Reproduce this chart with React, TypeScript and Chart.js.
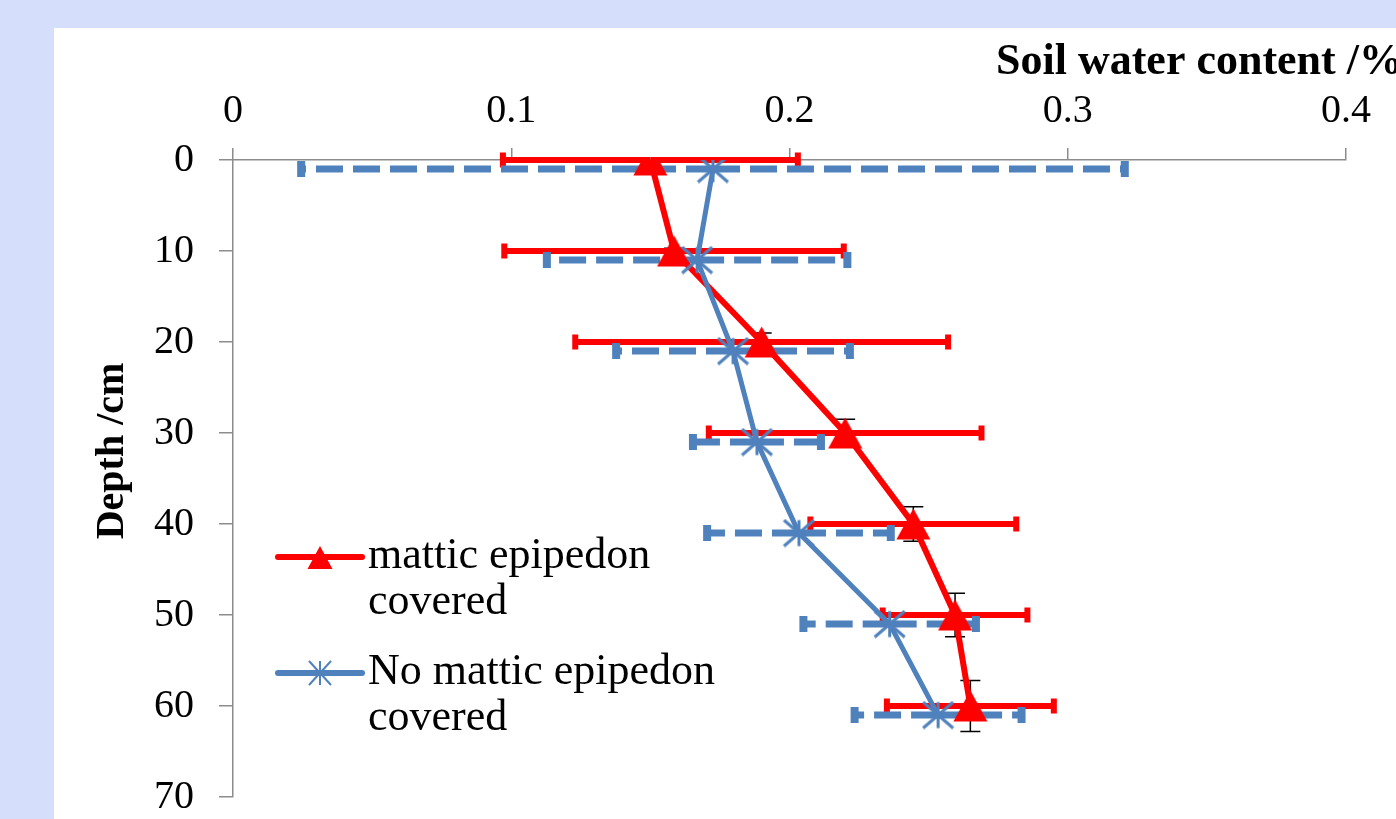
import React, { useEffect, useRef } from 'react';
import { Chart, registerables } from 'chart.js';

Chart.register(...registerables);

// ---- data ----
const redDepth = [0, 10, 20, 30, 40, 50, 60];
const redWater = [0.15, 0.1585, 0.19, 0.22, 0.2445, 0.2595, 0.265];
const redXErr = [0.053, 0.061, 0.067, 0.049, 0.037, 0.026, 0.03];
const redYErr = [0, 0.3, 1.0, 1.5, 1.9, 2.4, 2.8];

const blueDepth = [1, 11, 21, 31, 41, 51, 61];
const blueWater = [0.1725, 0.1668, 0.1797, 0.1883, 0.2034, 0.236, 0.2534];
const blueXErr = [0.148, 0.054, 0.042, 0.023, 0.033, 0.031, 0.03];

const xTicks = [0, 0.1, 0.2, 0.3, 0.4];
const xTickLabels = ['0', '0.1', '0.2', '0.3', '0.4'];
const yTicks = [0, 10, 20, 30, 40, 50, 60, 70];
const yTickLabels = ['0', '10', '20', '30', '40', '50', '60', '70'];

const seriesNames = [
  ['mattic epipedon', 'covered'],
  ['No mattic epipedon', 'covered'],
];
const xTitle = 'Soil water content /%';
const yTitle = 'Depth /cm';

// ---- styles ----
const RED = '#ff0000';
const BLUE = '#4f81bd';
const AXIS = '#8c8c8c';
const SERIF = '"Liberation Serif", "Times New Roman", serif';

function makeTriangle(w: number, h: number, color: string) {
  const c = document.createElement('canvas');
  c.width = w;
  c.height = h;
  const g = c.getContext('2d')!;
  g.fillStyle = color;
  g.beginPath();
  g.moveTo(w / 2, 0.5);
  g.lineTo(w - 0.5, h - 0.5);
  g.lineTo(0.5, h - 0.5);
  g.closePath();
  g.fill();
  return c;
}

function makeStar(w: number, h: number, color: string, lw: number) {
  const c = document.createElement('canvas');
  c.width = w;
  c.height = h;
  const g = c.getContext('2d')!;
  g.strokeStyle = color;
  g.lineWidth = lw;
  g.lineCap = 'butt';
  const m = lw / 2;
  g.beginPath();
  g.moveTo(w / 2, m);
  g.lineTo(w / 2, h - m);
  g.moveTo(m, m);
  g.lineTo(w - m, h - m);
  g.moveTo(w - m, m);
  g.lineTo(m, h - m);
  g.stroke();
  return c;
}

const errorBarPlugin = {
  id: 'errorBars',
  beforeDatasetsDraw(chart: any) {
    const ctx = chart.ctx;
    const xs = chart.scales.x;
    const ys = chart.scales.y;
    ctx.save();
    chart.data.datasets.forEach((ds: any) => {
      const eb = ds.errorBar;
      if (!eb) return;
      ds.data.forEach((p: any, i: number) => {
        const px = xs.getPixelForValue(p.x);
        const ye = eb.yErr ? eb.yErr[i] : 0;
        if (ye > 0) {
          const y1 = ys.getPixelForValue(p.y - ye);
          const y2 = ys.getPixelForValue(p.y + ye);
          ctx.strokeStyle = '#000';
          ctx.lineWidth = 1.5;
          ctx.setLineDash([]);
          ctx.beginPath();
          ctx.moveTo(px, y1);
          ctx.lineTo(px, y2);
          ctx.moveTo(px - 10, y1);
          ctx.lineTo(px + 10, y1);
          ctx.moveTo(px - 10, y2);
          ctx.lineTo(px + 10, y2);
          ctx.stroke();
        }
      });
    });
    chart.data.datasets.forEach((ds: any) => {
      const eb = ds.errorBar;
      if (!eb) return;
      ds.data.forEach((p: any, i: number) => {
        const px = xs.getPixelForValue(p.x);
        const py = ys.getPixelForValue(p.y);
        const xl = xs.getPixelForValue(p.x - eb.xErr[i]);
        const xr = xs.getPixelForValue(p.x + eb.xErr[i]);
        ctx.strokeStyle = eb.color;
        ctx.lineWidth = eb.width;
        ctx.lineCap = 'butt';
        ctx.setLineDash(eb.dash);
        ctx.beginPath();
        ctx.moveTo(px, py);
        ctx.lineTo(xl, py);
        ctx.stroke();
        ctx.beginPath();
        ctx.moveTo(px, py);
        ctx.lineTo(xr, py);
        ctx.stroke();
        ctx.setLineDash([]);
        ctx.lineWidth = eb.capWidth;
        ctx.beginPath();
        ctx.moveTo(xl, py - eb.capLen / 2);
        ctx.lineTo(xl, py + eb.capLen / 2);
        ctx.moveTo(xr, py - eb.capLen / 2);
        ctx.lineTo(xr, py + eb.capLen / 2);
        ctx.stroke();
      });
    });
    ctx.restore();
  },
};

const decorPlugin = {
  id: 'decor',
  afterDraw(chart: any) {
    const ctx = chart.ctx;
    const ca = chart.chartArea;
    ctx.save();
    // axis titles
    ctx.fillStyle = '#000';
    ctx.font = `bold 44px ${SERIF}`;
    ctx.textAlign = 'left';
    ctx.textBaseline = 'alphabetic';
    ctx.fillText(xTitle, ca.left + 763, 46);

    ctx.save();
    ctx.translate(69, 423);
    ctx.rotate(-Math.PI / 2);
    ctx.font = `bold 40px ${SERIF}`;
    ctx.textAlign = 'center';
    ctx.fillText(yTitle, 0, 0);
    ctx.restore();

    // legend
    const items = [
      { color: RED, marker: 'tri', lineY: ca.top + 397, text: seriesNames[0] },
      { color: BLUE, marker: 'star', lineY: ca.top + 513, text: seriesNames[1] },
    ];
    const x0 = ca.left + 45;
    const x1 = ca.left + 129;
    const mx = ca.left + 87;
    items.forEach((it) => {
      ctx.strokeStyle = it.color;
      ctx.lineWidth = 6;
      ctx.lineCap = 'round';
      ctx.beginPath();
      ctx.moveTo(x0, it.lineY);
      ctx.lineTo(x1, it.lineY);
      ctx.stroke();
      if (it.marker === 'tri') {
        ctx.fillStyle = it.color;
        ctx.beginPath();
        ctx.moveTo(mx, it.lineY - 11);
        ctx.lineTo(mx + 12.5, it.lineY + 12);
        ctx.lineTo(mx - 12.5, it.lineY + 12);
        ctx.closePath();
        ctx.fill();
      } else {
        ctx.lineWidth = 2;
        ctx.lineCap = 'butt';
        ctx.beginPath();
        ctx.moveTo(mx, it.lineY - 12);
        ctx.lineTo(mx, it.lineY + 12);
        ctx.moveTo(mx - 11, it.lineY - 12);
        ctx.lineTo(mx + 11, it.lineY + 12);
        ctx.moveTo(mx + 11, it.lineY - 12);
        ctx.lineTo(mx - 11, it.lineY + 12);
        ctx.stroke();
      }
      ctx.fillStyle = '#000';
      ctx.font = `44px ${SERIF}`;
      ctx.textAlign = 'left';
      ctx.textBaseline = 'alphabetic';
      ctx.fillText(it.text[0], ca.left + 135, it.lineY + 11);
      ctx.fillText(it.text[1], ca.left + 135, it.lineY + 57);
    });
    ctx.restore();
  },
};

export default function App() {
  const ref = useRef<HTMLCanvasElement | null>(null);

  useEffect(() => {
    if (!ref.current) return;
    const tri = makeTriangle(35, 32, RED);
    const star = makeStar(33, 29, BLUE, 3);

    const chart = new Chart(ref.current, {
      type: 'scatter',
      data: {
        datasets: [
          {
            label: seriesNames[0].join(' '),
            data: redDepth.map((d, i) => ({ x: redWater[i], y: d })),
            showLine: true,
            borderColor: RED,
            borderWidth: 6,
            pointStyle: tri as any,
            pointRadius: 16,
            pointBackgroundColor: RED,
            pointBorderColor: RED,
            order: 1,
            errorBar: {
              xErr: redXErr,
              yErr: redYErr,
              color: RED,
              width: 6,
              dash: [],
              capWidth: 6,
              capLen: 15,
            },
          } as any,
          {
            label: seriesNames[1].join(' '),
            data: blueDepth.map((d, i) => ({ x: blueWater[i], y: d })),
            showLine: true,
            borderColor: BLUE,
            borderWidth: 5,
            pointStyle: star as any,
            pointRadius: 15,
            pointBackgroundColor: BLUE,
            pointBorderColor: BLUE,
            order: 0,
            errorBar: {
              xErr: blueXErr,
              color: BLUE,
              width: 7,
              dash: [27, 10],
              capWidth: 8,
              capLen: 16,
            },
          } as any,
        ],
      },
      options: {
        responsive: false,
        animation: false,
        layout: { padding: { left: 0, top: 0, right: 50, bottom: 20 } },
        plugins: {
          legend: { display: false },
          tooltip: { enabled: false },
        },
        scales: {
          x: {
            type: 'linear',
            position: 'top',
            min: 0,
            max: 0.4,
            afterBuildTicks: (s: any) => {
              s.ticks = xTicks.map((v) => ({ value: v }));
            },
            afterFit: (s: any) => {
              s.height = 132;
              s.paddingLeft = 0;
              s.paddingRight = 0;
            },
            ticks: {
              autoSkip: false,
              maxRotation: 0,
              color: '#000',
              padding: 13,
              font: { family: SERIF, size: 40, lineHeight: 1.2 },
              callback: (_v: any, i: number) => xTickLabels[i],
            },
            grid: {
              drawOnChartArea: false,
              drawTicks: true,
              tickLength: 12,
              color: AXIS,
              lineWidth: 1.5,
            },
            border: { display: true, color: AXIS, width: 1.5 },
          },
          y: {
            type: 'linear',
            position: 'left',
            reverse: true,
            min: 0,
            max: 70,
            afterBuildTicks: (s: any) => {
              s.ticks = yTicks.map((v) => ({ value: v }));
            },
            afterFit: (s: any) => {
              s.width = 179;
              s.paddingTop = 0;
              s.paddingBottom = 0;
            },
            ticks: {
              autoSkip: false,
              color: '#000',
              padding: 25,
              font: { family: SERIF, size: 40, lineHeight: 1 },
              callback: (_v: any, i: number) => yTickLabels[i],
            },
            grid: {
              drawOnChartArea: false,
              drawTicks: true,
              tickLength: 14,
              color: AXIS,
              lineWidth: 1.5,
            },
            border: { display: true, color: AXIS, width: 1.5 },
          },
        },
      } as any,
      plugins: [errorBarPlugin, decorPlugin],
    });
    return () => chart.destroy();
  }, []);

  return (
    <div
      style={{
        position: 'fixed',
        left: 0,
        top: 0,
        width: 1396,
        height: 819,
        background: '#d5dffb',
        overflow: 'hidden',
      }}
    >
      <div
        style={{
          position: 'absolute',
          left: 54,
          top: 28,
          width: 1342,
          height: 791,
          background: '#ffffff',
        }}
      >
        <canvas ref={ref} width={1342} height={791} style={{ display: 'block' }} />
      </div>
    </div>
  );
}
